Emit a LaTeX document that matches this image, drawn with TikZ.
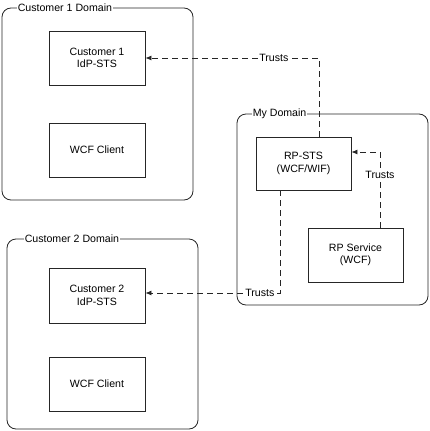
\documentclass[tikz,border=0pt]{standalone}
\usepackage{fontspec}
\setmainfont{Liberation Sans}
\usepackage{tikz}
\usetikzlibrary{arrows.meta}

\begin{document}
\begin{tikzpicture}[x=1pt,y=-1pt,
	domaine/.style={draw=black!85,line width=0.8pt,rounded corners=9pt,inner sep=0pt},
	boite/.style={draw=black!85,line width=0.8pt,align=center,inner sep=0pt,font=\fontsize{10.6}{12.5}\selectfont},
	titre/.style={fill=white,inner sep=1pt,anchor=west,font=\fontsize{10.6}{12.5}\selectfont},
	confiance/.style={draw=black!85,line width=0.8pt,dash pattern=on 6pt off 4pt,-{Latex[length=6pt,width=5pt]}},
	etiquette/.style={fill=white,inner sep=1pt,font=\fontsize{10.6}{12.5}\selectfont}]
	%
	% Cadre de l'image
	\useasboundingbox (0,0) rectangle (429,431);
	%
	% Domaines
	\node[domaine,minimum width=191pt,minimum height=192pt] (dom1) at (97.5,104) {};
	\node[domaine,minimum width=191pt,minimum height=191pt] (mydom) at (332.5,209.5) {};
	\node[domaine,minimum width=191pt,minimum height=190pt] (dom2) at (102.5,334) {};
	\node[titre] (titre1) at ([xshift=15pt]dom1.north west) {Customer 1 Domain};
	\node[titre] (titremy) at ([xshift=15pt]mydom.north west) {My Domain};
	\node[titre] (titre2) at ([xshift=17pt]dom2.north west) {Customer 2 Domain};
	%
	% Boites
	\node[boite,minimum width=96pt,minimum height=54pt] (idp1) at (97,58) {Customer 1\\IdP-STS};
	\node[boite,minimum width=96pt,minimum height=54pt] (wcf1) at (97,150) {WCF Client};
	\node[boite,minimum width=95pt,minimum height=53pt] (rpsts) at (303.5,163.5) {RP-STS\\(WCF/WIF)};
	\node[boite,minimum width=95pt,minimum height=54pt] (rpsvc) at (355.5,255) {RP Service\\(WCF)};
	\node[boite,minimum width=96pt,minimum height=55pt] (idp2) at (97,295.5) {Customer 2\\IdP-STS};
	\node[boite,minimum width=96pt,minimum height=54pt] (wcf2) at (97,384) {WCF Client};
	%
	% Relations de confiance
	\coordinate (coin1) at ([xshift=15.5pt]rpsts.north |- idp1.east);
	\coordinate (coin2) at ([xshift=24.5pt,yshift=11.5pt]rpsvc.north |- rpsts.east);
	\coordinate (coin3) at ([xshift=-23.5pt,yshift=2.5pt]rpsts.south |- idp2.east);
	\draw[confiance] ([xshift=15.5pt]rpsts.north) -- (coin1) -- node[etiquette,pos=0.26] {Trusts} (idp1.east);
	\draw[confiance] ([xshift=24.5pt]rpsvc.north) -- node[etiquette,pos=0.7] {Trusts} (coin2) -- ([yshift=11.5pt]rpsts.east);
	\draw[confiance] ([xshift=-23.5pt]rpsts.south) -- (coin3) -- node[etiquette,pos=0.15] {Trusts} ([yshift=2.5pt]idp2.east);
\end{tikzpicture}
\end{document}
